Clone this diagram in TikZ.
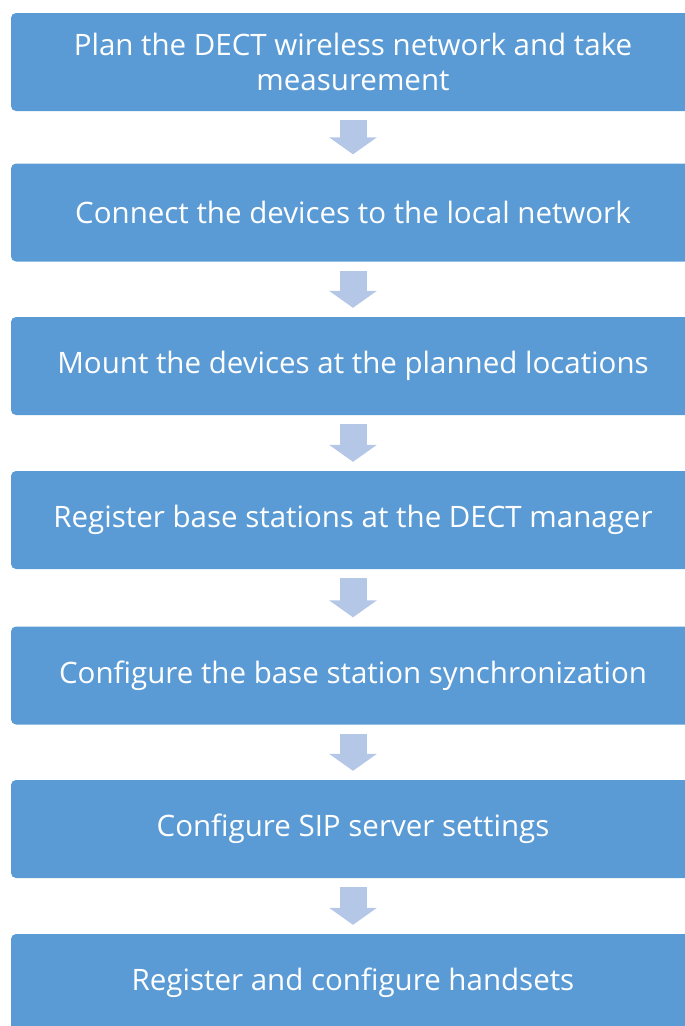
\documentclass[tikz,border=0pt]{standalone}
\usepackage{fontspec}
\setmainfont{Open Sans}
\usetikzlibrary{arrows.meta}
\pgfdeclarelayer{edgelayer}
\pgfdeclarelayer{nodelayer}
\pgfsetlayers{edgelayer,nodelayer,main}
\definecolor{boxblue}{HTML}{5B9BD5}
\definecolor{arrowblue}{HTML}{B4C7E7}
\tikzset{font=\fontsize{29.5}{35}\selectfont}
\tikzstyle{stepbox}=[rectangle,rounded corners=5pt,fill=boxblue,text=white,minimum width=684pt,minimum height=98pt,align=center,inner sep=0pt]
\tikzstyle{down}=[draw=arrowblue,line width=27pt,-{Triangle[width=47pt,length=17pt]},shorten <=9pt,shorten >=9pt]

\begin{document}
\begin{tikzpicture}[x=1pt,y=-1pt]
	\useasboundingbox (0,0) rectangle (685,1026);
	\begin{pgfonlayer}{nodelayer}
		\node [style=stepbox] (0) at (353, 62) {Plan the DECT wireless network and take\\measurement};
		\node [style=stepbox] (1) at (353, 212.5) {Connect the devices to the local network};
		\node [style=stepbox] (2) at (353, 366) {Mount the devices at the planned locations};
		\node [style=stepbox] (3) at (353, 520) {Register base stations at the DECT manager};
		\node [style=stepbox] (4) at (353, 675.5) {Configure the base station synchronization};
		\node [style=stepbox] (5) at (353, 829) {Configure SIP server settings};
		\node [style=stepbox] (6) at (353, 983) {Register and configure handsets};
	\end{pgfonlayer}
	\begin{pgfonlayer}{edgelayer}
		\draw [style=down] (0.south) to (1.north);
		\draw [style=down] (1.south) to (2.north);
		\draw [style=down] (2.south) to (3.north);
		\draw [style=down] (3.south) to (4.north);
		\draw [style=down] (4.south) to (5.north);
		\draw [style=down] (5.south) to (6.north);
	\end{pgfonlayer}
\end{tikzpicture}
\end{document}
